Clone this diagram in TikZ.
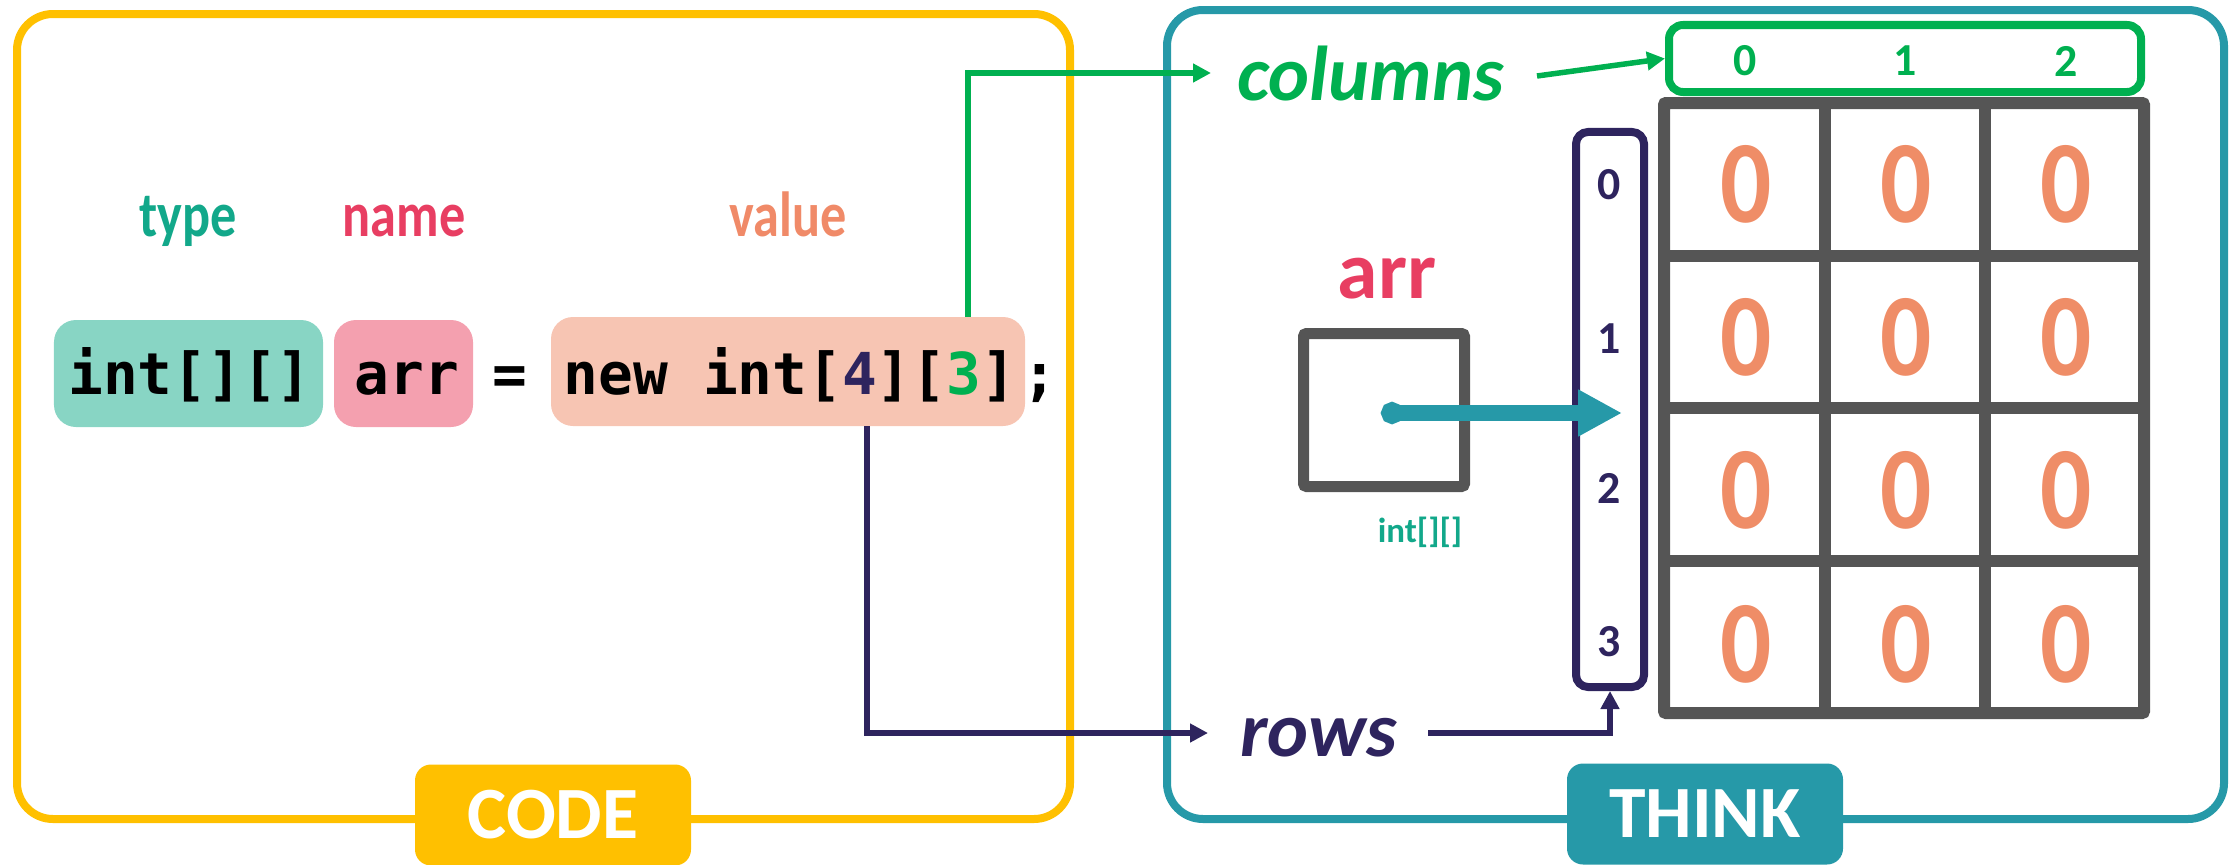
\documentclass[tikz,border=0pt]{standalone}
\usepackage{fontspec}
\setmainfont{Carlito}
\newfontfamily\codefont{DejaVu Sans Mono}
\newfontfamily\narrowfont{Carlito}[FakeStretch=0.82]
\newfontfamily\zerofont{Carlito}[FakeStretch=0.86]
\usetikzlibrary{arrows.meta}
\definecolor{yellowc}{RGB}{255,192,0}
\definecolor{tealc}{RGB}{38,153,168}
\definecolor{greenc}{RGB}{0,176,80}
\definecolor{navyc}{RGB}{46,36,94}
\definecolor{grayc}{RGB}{85,85,85}
\definecolor{zeroc}{RGB}{239,141,103}
\definecolor{typefill}{RGB}{136,213,196}
\definecolor{typec}{RGB}{18,168,138}
\definecolor{namefill}{RGB}{244,160,175}
\definecolor{namec}{RGB}{232,62,98}
\definecolor{valfill}{RGB}{247,197,179}
\definecolor{valc}{RGB}{240,138,104}
\newcommand\fsz[1]{\fontsize{#1}{#1}\selectfont}
\tikzset{
  frame/.style={line width=8bp, rounded corners=36bp},
  tag/.style={rounded corners=16bp, minimum width=276bp, minimum height=101bp, inner sep=0pt, text=white, font=\fsz{74}\bfseries},
  cbox/.style={rounded corners=22bp, inner sep=0pt, draw=none},
  codetext/.style={anchor=base, inner sep=0pt, font=\codefont\fsz{58}\bfseries},
  lbl/.style={anchor=base, inner sep=0pt, font=\narrowfont\fsz{64}\bfseries},
  gconn/.style={draw=greenc, line width=5.5bp, -{Triangle[length=18bp,width=18bp]}},
  nconn/.style={draw=navyc, line width=5.5bp, -{Triangle[length=18bp,width=18bp]}},
  zero/.style={inner sep=0pt, text=zeroc, font=\zerofont\fsz{118}\bfseries},
  idx/.style={inner sep=0pt, text=navyc, font=\fsz{46}\bfseries},
  hidx/.style={inner sep=0pt, text=greenc, font=\fsz{46}\bfseries},
  gridline/.style={draw=grayc, line width=12bp}
}
\begin{document}
\begin{tikzpicture}[x=1bp,y=-1bp]
\useasboundingbox (0,0) rectangle (2239,864);
% frames
\draw[frame, draw=yellowc] (17,14) rectangle (1070,819);
\draw[frame, draw=tealc] (1167,10) rectangle (2224,819);
\node[tag, fill=yellowc] (codetag) at (553,815) {CODE};
\node[tag, fill=tealc] (thinktag) at (1705,814) {THINK};
% code line
\node[cbox, fill=typefill, minimum width=269bp, minimum height=107bp] (typebox) at (188.5,373.5) {};
\node[cbox, fill=namefill, minimum width=139bp, minimum height=107bp] (namebox) at (403.5,373.5) {};
\node[cbox, fill=valfill, minimum width=474bp, minimum height=109bp] (valbox) at (788,371.5) {};
\node[codetext] (typetxt) at (190,394) {int[][]};
\node[codetext] (nametxt) at (407,394) {arr};
\node[codetext] (eqtxt) at (510,394) {=};
\node[codetext] (valtxt) at (790,394) {new int[\textcolor{navyc}{4}][\textcolor{greenc}{3}]};
\node[codetext] (semitxt) at (1040,394) {;};
\node[lbl, text=typec] (typelbl) at (188,236) {type};
\node[lbl, text=namec] (namelbl) at (404,236) {name};
\node[lbl, text=valc] (vallbl) at (788,236) {value};
% think side
\node[anchor=base west, inner sep=0pt, text=greenc, font=\fsz{78}\bfseries\itshape] (colslbl) at (1237,100) {columns};
\node[anchor=base west, inner sep=0pt, text=navyc, font=\fsz{78}\bfseries\itshape] (rowslbl) at (1240,756) {rows};
\node[draw=greenc, line width=8bp, rounded corners=14bp, minimum width=472bp, minimum height=67bp, inner sep=0pt] (hdr) at (1905,58.5) {};
\node[hidx] (h0) at (1745,61) {0};
\node[hidx] (h1) at (1905,61) {1};
\node[hidx] (h2) at (2066,61) {2};
% grid
\draw[gridline, rounded corners=2bp] (1664,103) rectangle (2144,713);
\foreach \gx in {1825,1985} \draw[gridline] (\gx,103) -- (\gx,713);
\foreach \gy in {255.5,408,560.5} \draw[gridline] (1664,\gy) -- (2144,\gy);
\foreach \r/\yy in {0/184,1/337,2/490,3/644}
  \foreach \c/\xx in {0/1746,1/1906,2/2066}
    \node[zero] (z\r\c) at (\xx,\yy) {0};
% row index box
\node[draw=navyc, line width=8bp, rounded corners=12bp, minimum width=68bp, minimum height=555bp, inner sep=0pt] (rowbox) at (1610,409.5) {};
\node[idx] (i0) at (1609,185) {0};
\node[idx] (i1) at (1609,339) {1};
\node[idx] (i2) at (1609,488) {2};
\node[idx] (i3) at (1609,642) {3};
% arr variable
\node[anchor=base, inner sep=0pt, text=namec, font=\fsz{82}\bfseries] (arrlbl) at (1387,298) {arr};
\node[draw=grayc, line width=11bp, rounded corners=3bp, minimum width=161bp, minimum height=153bp, inner sep=0pt] (arrbox) at (1384,410) {};
\node[anchor=base, inner sep=0pt, text=typec, font=\fsz{35}\bfseries] (arrtype) at (1420,542) {int[][]};
\coordinate (ptrstart) at (1381,413);
\coordinate (ptrtip) at (1622,413);
\draw[tealc, line width=16bp, {Circle[length=22bp]}-{Triangle[length=44bp,width=44bp]}] (ptrstart) -- (ptrtip);
% connectors
\coordinate (g0) at (968,317);
\coordinate (g1) at (1211,73);
\draw[gconn] (g0) |- (g1);
\coordinate (c0) at (1537,76);
\draw[gconn] (c0) -- (hdr.west);
\coordinate (n0) at (867,426);
\coordinate (n1) at (1208,733);
\draw[nconn] (n0) |- (n1);
\coordinate (r0) at (1428,733);
\draw[nconn] (r0) -| (rowbox.south);
\end{tikzpicture}
\end{document}
